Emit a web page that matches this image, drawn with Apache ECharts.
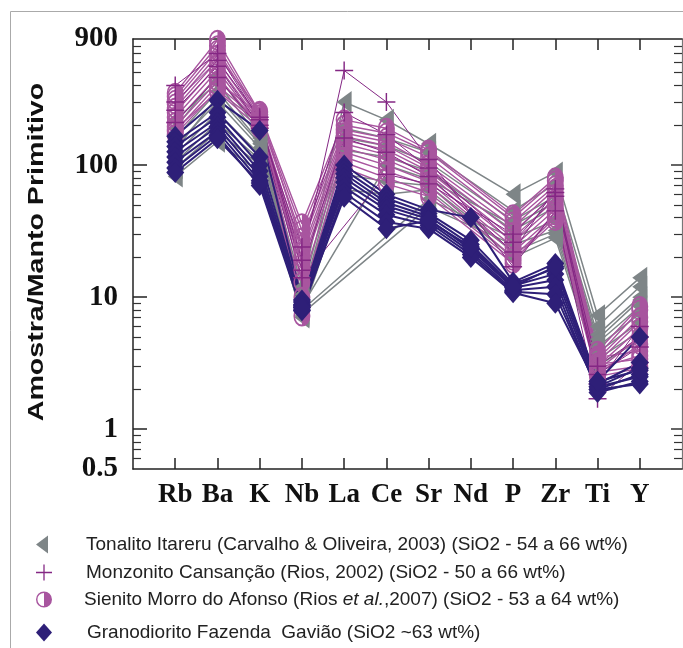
<!DOCTYPE html>
<html>
<head>
<meta charset="utf-8">
<script src="https://cdn.jsdelivr.net/npm/echarts@6/dist/echarts.min.js"></script>
<style>
html,body{margin:0;padding:0;background:#fff;}
#chart{width:683px;height:648px;}
</style>
</head>
<body>
<div id="chart"></div>
<script>
// ---- data ----
const categories = ['Rb','Ba','K','Nb','La','Ce','Sr','Nd','P','Zr','Ti','Y'];
const yTickLabels = [0.5, 1, 10, 100, 900];
const yMajorTicks = [1, 10, 100];
const yMinorTicks = [0.6,0.7,0.8,0.9,2,3,4,5,6,7,8,9,20,30,40,50,60,70,80,90,200,300,400,500,600,700,800];

const nameTonalito = 'Tonalito Itareru (Carvalho & Oliveira, 2003) (SiO2 - 54 a 66 wt%)';
const nameMonzonito = 'Monzonito Cansanção (Rios, 2002) (SiO2 - 50 a 66 wt%)';
const nameSienito = 'Sienito Morro do Afonso (Rios et al.,2007) (SiO2 - 53 a 64 wt%)';
const nameGranodiorito = 'Granodiorito Fazenda  Gavião (SiO2 ~63 wt%)';

// Rb, Ba, K, Nb, La, Ce, Sr, Nd, P, Zr, Ti, Y
const sienito = [
  [350, 880, 250, 36, 220, 190, 130, null, 42, 80, 3.9, 8.5],
  [330, 800, 240, 32, 200, 175, 125, null, 40, 76, 3.6, 8.0],
  [310, 740, 230, 28, 185, 160, 115, null, 37, 70, 3.4, 7.0],
  [290, 680, 255, 25, 175, 150, 100, null, 34, 66, 3.2, 6.5],
  [270, 620, 220, 22, 165, 140, 95, null, 31, 60, 3.0, 5.8],
  [250, 570, 210, 20, 155, 130, 90, null, 28, 55, 2.8, 5.0],
  [230, 520, 200, 18, 145, 120, 85, null, 26, 50, 2.6, 4.4],
  [210, 470, 195, 16, 135, 110, 80, null, 24, 46, 3.5, 3.9],
  [195, 430, 240, 13, 125, 100, 75, null, 22, 42, 3.1, 3.4],
  [180, 400, 215, 10, 115, 90, 70, null, 20, 40, 2.7, 3.0],
  [170, 370, 205, 7.2, 105, 80, 62, null, 19, 38, 2.5, 2.9],
  [185, 360, 190, 8.5, 95, 72, 58, null, 18, 44, 2.9, 3.6]
];
const tonalito = [
  [190, 480, 175, 12, 300, 220, 145, null, 60, 88, 7.3, 14],
  [220, 420, 160, 10.5, 190, 160, 125, null, 45, 72, 6.0, 12],
  [160, 360, 150, 9.5, 160, 140, 105, null, 38, 58, 5.2, 10],
  [140, 300, 135, 9, 130, 115, 90, null, 32, 48, 4.5, 8.5],
  [120, 250, 120, 8, null, null, 55, null, 28, 38, 4.2, 7.5],
  [105, 210, 110, 7.5, null, null, 48, null, 25, 32, 3.8, 6.5],
  [95, 180, 100, 7, 85, 75, 70, null, 22, 30, 3.4, 5.5],
  [82, 150, 88, 7.2, 65, 60, 65, null, 20, 28, 3.0, 4.8],
  [130, 330, 145, 8.5, null, 100, 78, null, 35, 52, 4.8, 9.5]
];
const monzonito = [
  [400, 700, 220, 19, 520, 300, 110, null, 17, 45, 1.7, 3.2],
  [260, 560, 200, 24, 250, 170, 95, null, 26, 58, 2.6, 4.2],
  [210, 460, 190, 14, null, 85, 72, null, 30, 62, 3.0, 5.0],
  [300, 620, 230, 16, 160, 125, 82, null, 22, 66, 2.2, 6.0]
];
const granodiorito = [
  [165, 310, 183, 9.5, 100, 60, 46, 40, 13, 18, 2.3, 5.0],
  [150, 250, 115, 9.2, 92, 56, 43, 27, 12.6, 16.5, 2.2, 3.2],
  [138, 230, 100, 8.8, 86, 52, 41, 25, 12.2, 15, 2.1, 2.9],
  [126, 210, 90, 8.4, 80, 49, 39, 23, 11.8, 13.5, 2.0, 2.6],
  [115, 195, 82, 8.0, 74, 46, 37, 22, 11.3, 12, 1.9, 2.3],
  [105, 180, 76, 8.6, 68, 42, 35, 21, 11.0, 10.5, 2.0, 2.2],
  [95, 168, 70, 7.9, 62, 37, 33, 20, 10.8, 9.0, 2.1, 2.5],
  [88, 158, 73, 8.3, 57, 33, 38, 24, 12.0, 17, 2.3, 2.8]
];

// ---- styles ----
const colGray = '#7e8587';
const colPlus = '#842784';
const colSien = '#a8559f';
const colGrano = '#2e1f78';
const triPath = 'path://M-6,0 L6,-9 L6,9 Z';
const plusPath = 'path://M-0.8,-10 h1.6 v9.2 h9.2 v1.6 h-9.2 v9.2 h-1.6 v-9.2 h-9.2 v-1.6 h9.2 z';
const halfCirclePath = 'path://M0,-10 A10,10 0 0,1 0,10 A10,10 0 0,1 0,-10 Z M0,-8.2 A8.2,8.2 0 0,0 0,8.2 Z';

function makeSeries(rows, name, color, symbol, size, lineWidth) {
  return rows.map(r => ({
    type: 'line', name: name,
    xAxisIndex: 0, yAxisIndex: 0,
    data: r.map((v, i) => [i + 1, v]).filter(p => p[1] != null),
    symbol: symbol, symbolSize: size,
    itemStyle: { color: color },
    lineStyle: { color: color, width: lineWidth },
    emphasis: { disabled: true },
    animation: false
  }));
}

const series = [].concat(
  makeSeries(tonalito, nameTonalito, colGray, triPath, [15, 22], 1.5),
  makeSeries(sienito, nameSienito, colSien, halfCirclePath, [17, 21], 1.4),
  makeSeries(monzonito, nameMonzonito, colPlus, plusPath, [18, 18], 1),
  makeSeries(granodiorito, nameGranodiorito, colGrano, 'diamond', [18, 21], 2)
);

const serifFont = '"Liberation Serif", "Times New Roman", serif';
const sansFont = '"Liberation Sans", Arial, sans-serif';
const xPositions = categories.map((c, i) => i + 1);

function legendRow(name, icon, top, pad, rich) {
  const l = {
    data: [{ name: name, icon: icon }],
    left: 36, top: top, padding: 0,
    itemWidth: 16, itemHeight: 18,
    selectedMode: false,
    textStyle: { fontFamily: sansFont, fontSize: 19, color: '#222', padding: [0, 0, 0, pad] }
  };
  if (rich) {
    l.formatter = () => '{n|Sienito Morro do Afonso (Rios }{i|et al.}{n|,2007) (SiO2 - 53 a 64 wt%)}';
    l.textStyle.rich = {
      n: { fontFamily: sansFont, fontSize: 19, color: '#222' },
      i: { fontFamily: sansFont, fontSize: 19, color: '#222', fontStyle: 'italic' }
    };
  }
  return l;
}

const option = {
  backgroundColor: '#fff',
  animation: false,
  grid: { left: 133, right: 1, top: 39, bottom: 179 },
  xAxis: [
    {
      type: 'value', min: 0, max: 13, interval: 1, position: 'bottom',
      axisLine: { show: true, lineStyle: { color: '#222', width: 1.5 } },
      axisTick: { show: true, inside: true, length: 11, customValues: xPositions, lineStyle: { color: '#222', width: 1.5 } },
      axisLabel: {
        customValues: xPositions, margin: 13,
        formatter: v => categories[Math.round(v) - 1] || '',
        fontFamily: serifFont, fontWeight: 'bold', fontSize: 27, color: '#111'
      },
      splitLine: { show: false }
    },
    {
      type: 'value', min: 0, max: 13, interval: 1, position: 'top',
      axisLine: { show: true, lineStyle: { color: '#222', width: 1.5 } },
      axisTick: { show: true, inside: true, length: 11, customValues: xPositions, lineStyle: { color: '#222', width: 1.5 } },
      axisLabel: { show: false },
      splitLine: { show: false }
    }
  ],
  yAxis: [
    {
      type: 'log', logBase: 10, min: 0.5, max: 900, position: 'left',
      axisLine: { show: true, lineStyle: { color: '#222', width: 1.5 } },
      axisTick: { show: true, inside: true, length: 14, customValues: yMajorTicks, lineStyle: { color: '#222', width: 1.5 } },
      axisLabel: {
        customValues: yTickLabels, margin: 15,
        formatter: v => String(v),
        fontFamily: serifFont, fontWeight: 'bold', fontSize: 29, color: '#111'
      },
      splitLine: { show: false }
    },
    {
      type: 'log', logBase: 10, min: 0.5, max: 900, position: 'left',
      axisLine: { show: false },
      axisTick: { show: true, inside: true, length: 8, customValues: yMinorTicks, lineStyle: { color: '#333', width: 1.2 } },
      axisLabel: { show: false },
      splitLine: { show: false }
    },
    {
      type: 'log', logBase: 10, min: 0.5, max: 900, position: 'right',
      axisLine: { show: true, lineStyle: { color: '#777', width: 1.2 } },
      axisTick: { show: true, inside: true, length: 11, customValues: yMajorTicks, lineStyle: { color: '#333', width: 1.5 } },
      axisLabel: { show: false },
      splitLine: { show: false }
    },
    {
      type: 'log', logBase: 10, min: 0.5, max: 900, position: 'right',
      axisLine: { show: false },
      axisTick: { show: true, inside: true, length: 8, customValues: yMinorTicks, lineStyle: { color: '#333', width: 1.2 } },
      axisLabel: { show: false },
      splitLine: { show: false }
    }
  ],
  legend: [
    legendRow(nameTonalito, triPath, 535, 31, false),
    legendRow(nameMonzonito, plusPath, 563, 29, false),
    legendRow(nameSienito, halfCirclePath, 590, 27, true),
    legendRow(nameGranodiorito, 'diamond', 623, 30, false)
  ],
  graphic: [
    {
      type: 'rect', silent: true, z: -10,
      shape: { x: 10.5, y: 11.5, width: 800, height: 800 },
      style: { fill: 'none', stroke: '#aaaaaa', lineWidth: 1 }
    },
    {
      type: 'text', silent: true,
      x: 37, y: 252, rotation: Math.PI / 2, scaleX: 1.3, scaleY: 1,
      style: {
        text: 'Amostra/Manto Primitivo',
        fontFamily: sansFont, fontWeight: 'bold', fontSize: 22,
        fill: '#111', textAlign: 'center', textVerticalAlign: 'middle'
      }
    }
  ],
  series: series
};

const chart = echarts.init(document.getElementById('chart'), null, { renderer: 'canvas' });
chart.setOption(option);
</script>
</body>
</html>
